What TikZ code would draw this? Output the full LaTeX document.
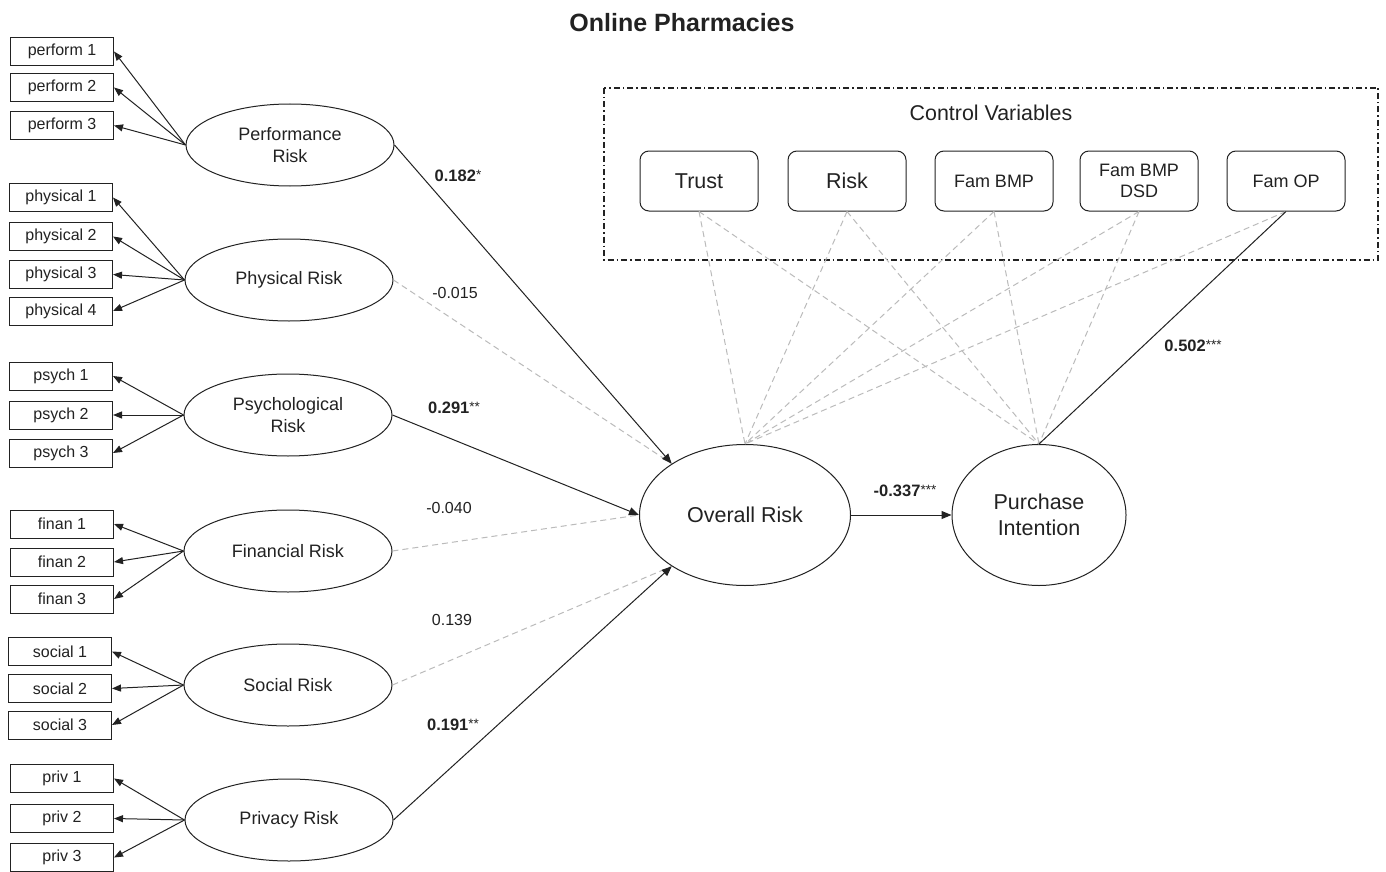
\documentclass[tikz,border=0pt]{standalone}
\usepackage{fontspec}
\setmainfont{Liberation Sans}
\usetikzlibrary{arrows.meta,shapes.geometric}
\definecolor{ink}{HTML}{222222}
\definecolor{faint}{HTML}{BBBBBB}
% significance stars set small and raised after a coefficient
\newcommand\sigstar[1]{\raisebox{2.5pt}{\fontsize{13.5}{13.5}\selectfont\mdseries #1}}
\begin{document}
\begin{tikzpicture}[x=1pt,y=-1pt,
  every node/.style={text=ink},
  indicator/.style={draw=ink, line width=1pt, minimum width=103pt, minimum height=28pt,
    inner sep=0pt, font=\fontsize{16}{19}\selectfont},
  latent/.style={draw=ink, line width=1pt, ellipse, minimum width=208pt, minimum height=82pt,
    inner sep=0pt, align=center, font=\fontsize{18}{22}\selectfont},
  outcome/.style={draw=ink, line width=1pt, ellipse, minimum height=141pt,
    inner sep=0pt, align=center, font=\fontsize{21.5}{26}\selectfont},
  control/.style={draw=ink, line width=1pt, rounded corners=9pt, minimum width=118pt,
    minimum height=60pt, inner sep=0pt, align=center},
  loading/.style={draw=ink, line width=1pt, -{Triangle[length=9pt,width=7pt]}},
  sig/.style={draw=ink, line width=1pt, -{Triangle[length=10pt,width=8pt]}},
  plain/.style={draw=ink, line width=1pt},
  nonsig/.style={draw=faint, line width=1pt, dash pattern=on 6pt off 4pt},
  coef/.style={font=\fontsize{16}{19}\selectfont},
  coefb/.style={font=\fontsize{16.5}{19}\selectfont\bfseries},
]
\useasboundingbox[fill=white] (0,0) rectangle (1386,872);

% title
\node[font=\fontsize{25}{30}\selectfont\bfseries] (title) at (682,23) {Online Pharmacies};

% control variables frame
\draw[ink, line width=1.1pt, dash pattern=on 6pt off 3pt on 1.5pt off 3pt]
  (604,88) rectangle (1378,260);
\node[font=\fontsize{21.4}{25}\selectfont] (ctitle) at (991,113) {Control Variables};
\node[control, font=\fontsize{21.5}{25}\selectfont] (trust) at (699,181) {Trust};
\node[control, font=\fontsize{21.5}{25}\selectfont] (risk) at (847,181) {Risk};
\node[control, font=\fontsize{18}{21}\selectfont] (fbmp) at (994,181) {Fam BMP};
\node[control, font=\fontsize{18}{21}\selectfont] (fdsd) at (1139,181) {Fam BMP\\DSD};
\node[control, font=\fontsize{18}{21}\selectfont] (fop) at (1286,181) {Fam OP};

% latent risk dimensions
\node[latent] (perf) at (290,145) {Performance\\Risk};
\node[latent] (phys) at (289,280) {Physical Risk};
\node[latent] (psy) at (288,415) {Psychological\\Risk};
\node[latent] (fin) at (288,551) {Financial Risk};
\node[latent] (soc) at (288,685) {Social Risk};
\node[latent] (priv) at (289,820) {Privacy Risk};

% outcome constructs
\node[outcome, minimum width=211pt] (OR) at (745,515) {Overall Risk};
\node[outcome, minimum width=174pt] (PI) at (1039,515) {Purchase\\Intention};

% indicators
\node[indicator] (pe1) at (62,51.5) {perform 1};
\node[indicator] (pe2) at (62,87.5) {perform 2};
\node[indicator] (pe3) at (62,125.5) {perform 3};
\node[indicator] (ph1) at (61,197.5) {physical 1};
\node[indicator] (ph2) at (61,236.5) {physical 2};
\node[indicator] (ph3) at (61,274.5) {physical 3};
\node[indicator] (ph4) at (61,311) {physical 4};
\node[indicator] (ps1) at (61,376) {psych 1};
\node[indicator] (ps2) at (61,415) {psych 2};
\node[indicator] (ps3) at (61,453) {psych 3};
\node[indicator] (fi1) at (62,524) {finan 1};
\node[indicator] (fi2) at (62,562) {finan 2};
\node[indicator] (fi3) at (62,599) {finan 3};
\node[indicator] (so1) at (60,651.5) {social 1};
\node[indicator] (so2) at (60,688.5) {social 2};
\node[indicator] (so3) at (60,725) {social 3};
\node[indicator] (pr1) at (62,778.5) {priv 1};
\node[indicator] (pr2) at (62,818.5) {priv 2};
\node[indicator] (pr3) at (62,857.5) {priv 3};

% loadings
\foreach \s/\t in {perf/pe1,perf/pe2,perf/pe3,phys/ph1,phys/ph2,phys/ph3,phys/ph4,
                   psy/ps1,psy/ps2,psy/ps3,fin/fi1,fin/fi2,fin/fi3,
                   soc/so1,soc/so2,soc/so3,priv/pr1,priv/pr2,priv/pr3}
  \draw[loading] (\s.west) -- (\t.east);

% control paths
\foreach \c in {trust,risk,fbmp,fdsd,fop}
  \draw[nonsig] (\c.south) -- (OR.north);
\foreach \c in {trust,risk,fbmp,fdsd}
  \draw[nonsig] (\c.south) -- (PI.north);
\draw[plain] (fop.south) -- (PI.north);

% structural paths
\draw[nonsig] (phys.east) -- (OR.145);
\draw[nonsig] (fin.east) -- (OR.west);
\draw[nonsig] (soc.east) -- (OR.215);
\draw[sig] (perf.east) -- (OR.145);
\draw[sig] (psy.east) -- (OR.west);
\draw[sig] (priv.east) -- (OR.215);
\draw[sig] (OR.east) -- (PI.west);

% coefficients
\node[coefb] (c1) at (458,176) {0.182\sigstar{*}};
\node[coef]  (c2) at (455,293) {-0.015};
\node[coefb] (c3) at (454,408) {0.291\sigstar{**}};
\node[coef]  (c4) at (449,508) {-0.040};
\node[coef]  (c5) at (452,620) {0.139};
\node[coefb] (c6) at (453,725) {0.191\sigstar{**}};
\node[coefb] (c7) at (905,491) {-0.337\sigstar{***}};
\node[coefb] (c8) at (1193,346) {0.502\sigstar{***}};
\end{tikzpicture}
\end{document}
